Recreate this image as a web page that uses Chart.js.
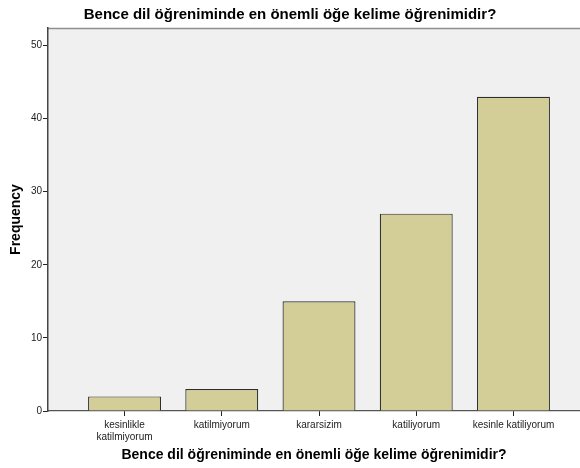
<!DOCTYPE html>
<html>
<head>
<meta charset="utf-8">
<script src="https://cdn.jsdelivr.net/npm/chart.js@4"></script>
<style>
  html, body { margin: 0; padding: 0; background: #fff; }
  #wrap { width: 580px; height: 468px; }
</style>
</head>
<body>
<div id="wrap"><canvas id="freqChart"></canvas></div>
<script>
const categoryLabels = [
  ['kesinlikle', 'katilmiyorum'],
  'katilmiyorum',
  'kararsizim',
  'katiliyorum',
  'kesinle katiliyorum'
];
const frequencies = [2, 3, 15, 27, 43];
const questionText = 'Bence dil öğreniminde en önemli öğe kelime öğrenimidir?';

const barColor = 'rgb(211, 206, 152)';
const barBorder = '#2e2e2e';
const fontFamily = '"Liberation Sans", Arial, sans-serif';

// spss style grey plot area with a thin top border
const plotBackground = {
  id: 'plotBackground',
  beforeDraw(chart) {
    const { ctx, chartArea: a } = chart;
    ctx.save();
    ctx.fillStyle = '#f0f0f0';
    ctx.fillRect(a.left, a.top, a.right - a.left, a.bottom - a.top);
    ctx.strokeStyle = '#8f8f8f';
    ctx.lineWidth = 1.5;
    ctx.beginPath();
    ctx.moveTo(a.left, a.top + 0.5);
    ctx.lineTo(a.right, a.top + 0.5);
    ctx.stroke();
    ctx.restore();
  }
};

const barData = {
  datasets: [{
    label: 'Frequency',
    data: frequencies.map((v, i) => ({ x: i, y: v })),
    backgroundColor: barColor,
    borderColor: barBorder,
    borderWidth: 1.2,
    categoryPercentage: 1,
    barPercentage: 0.75
  }]
};

const barConfig = {
  type: 'bar',
  data: barData,
  plugins: [plotBackground],
  options: {
    responsive: true,
    maintainAspectRatio: false,
    animation: false,
    layout: { padding: 0 },
    plugins: {
      legend: { display: false },
      tooltip: { enabled: false },
      title: {
        display: true,
        text: questionText,
        color: '#000',
        font: { family: fontFamily, size: 15, weight: 'bold' },
        padding: { top: 6, bottom: 4 }
      }
    },
    scales: {
      x: {
        type: 'linear',
        offset: false,
        min: -0.787,
        max: 4.684,
        afterFit: (scale) => { scale.height = 57; },
        ticks: {
          stepSize: 1,
          includeBounds: false,
          autoSkip: false,
          maxRotation: 0,
          padding: 3,
          color: '#222',
          font: { family: fontFamily, size: 10 },
          callback: (value) => categoryLabels[value] ?? ''
        },
        grid: {
          offset: false,
          drawOnChartArea: false,
          drawTicks: true,
          tickLength: 5,
          tickColor: '#222'
        },
        border: { display: true, color: '#555', width: 1.2 },
        title: {
          display: true,
          text: questionText,
          color: '#000',
          font: { family: fontFamily, size: 14, weight: 'bold' },
          padding: { top: 4, bottom: 4 }
        }
      },
      y: {
        min: 0,
        max: 52.4,
        afterFit: (scale) => { scale.width = 48; },
        ticks: {
          stepSize: 10,
          includeBounds: false,
          padding: 1,
          color: '#222',
          font: { family: fontFamily, size: 10 }
        },
        grid: {
          drawOnChartArea: false,
          drawTicks: true,
          tickLength: 5,
          tickColor: '#222'
        },
        border: { display: true, color: '#444', width: 1.5 },
        title: {
          display: true,
          text: 'Frequency',
          color: '#000',
          font: { family: fontFamily, size: 14, weight: 'bold' },
          padding: { top: 8, bottom: 0 }
        }
      }
    }
  }
};

document.addEventListener('DOMContentLoaded', () => {
  const freqChart = new Chart(
    document.getElementById('freqChart'),
    barConfig
  );
});
</script>
</body>
</html>
